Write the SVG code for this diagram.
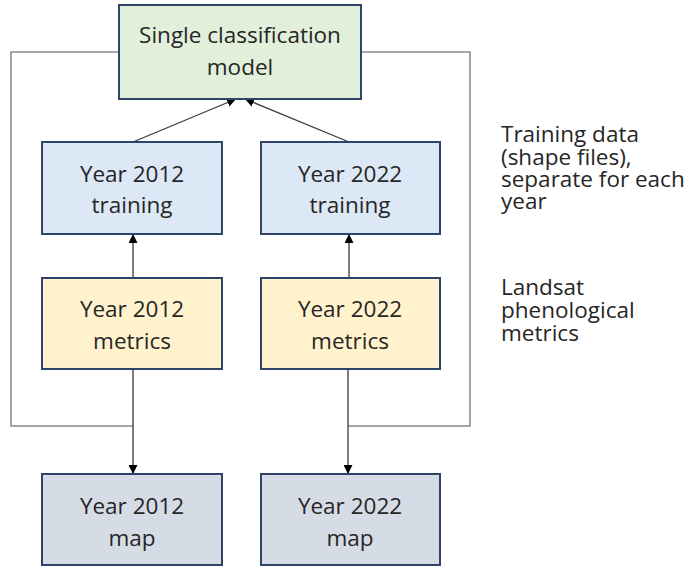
<svg xmlns="http://www.w3.org/2000/svg" width="690" height="567" viewBox="0 0 690 567">
<defs>
<marker id="ah" viewBox="0 0 10 10" refX="10" refY="5" markerWidth="9" markerHeight="9" markerUnits="userSpaceOnUse" orient="auto">
<path d="M0,0 L10,5 L0,10 z" fill="#000"/>
</marker>
<style>
.box{stroke:#2f4468;stroke-width:2}
.t{font-family:"Open Sans","Liberation Sans",sans-serif;font-size:22.5px;fill:#262626;text-anchor:middle}
.s{font-family:"Open Sans","Liberation Sans",sans-serif;font-size:22.5px;fill:#262626}
.c{fill:none;stroke:#3a3a3a;stroke-width:1.3}
.o{fill:none;stroke:#8a8a8a;stroke-width:1.6}
</style>
</defs>
<rect width="690" height="567" fill="#fff"/>
<g id="connectors">
<path class="o" d="M119,52 H11 V426 H133"/>
<path class="o" d="M361,52 H470 V426 H348"/>
<line class="c" x1="133" y1="142" x2="236" y2="99" marker-end="url(#ah)"/>
<line class="c" x1="349" y1="142" x2="245" y2="99" marker-end="url(#ah)"/>
<line class="c" x1="133" y1="278" x2="133" y2="234" marker-end="url(#ah)"/>
<line class="c" x1="349" y1="278" x2="349" y2="234" marker-end="url(#ah)"/>
<line class="c" x1="133" y1="369" x2="133" y2="474" marker-end="url(#ah)"/>
<line class="c" x1="348" y1="369" x2="348" y2="474" marker-end="url(#ah)"/>
</g>
<g id="model">
<rect class="box" x="119" y="5" width="242" height="94" fill="#e2efda"/>
<text class="t" x="240" y="43">Single classification</text>
<text class="t" x="240" y="75">model</text>
</g>
<g id="train2012">
<rect class="box" x="42" y="142" width="180" height="92" fill="#dce8f5"/>
<text class="t" x="132" y="182">Year 2012</text>
<text class="t" x="132" y="213">training</text>
</g>
<g id="train2022">
<rect class="box" x="261" y="142" width="179" height="92" fill="#dce8f5"/>
<text class="t" x="350" y="182">Year 2022</text>
<text class="t" x="350" y="213">training</text>
</g>
<g id="metrics2012">
<rect class="box" x="42" y="278" width="180" height="91" fill="#fff2cc"/>
<text class="t" x="132" y="317">Year 2012</text>
<text class="t" x="132" y="349">metrics</text>
</g>
<g id="metrics2022">
<rect class="box" x="261" y="278" width="179" height="91" fill="#fff2cc"/>
<text class="t" x="350" y="317">Year 2022</text>
<text class="t" x="350" y="349">metrics</text>
</g>
<g id="map2012">
<rect class="box" x="42" y="474" width="180" height="91" fill="#d6dce5"/>
<text class="t" x="132" y="514">Year 2012</text>
<text class="t" x="132" y="546">map</text>
</g>
<g id="map2022">
<rect class="box" x="261" y="474" width="179" height="91" fill="#d6dce5"/>
<text class="t" x="350" y="514">Year 2022</text>
<text class="t" x="350" y="546">map</text>
</g>
<g id="legend">
<text class="s" x="501" y="142">Training data</text>
<text class="s" x="501" y="165">(shape files),</text>
<text class="s" x="501" y="187">separate for each</text>
<text class="s" x="501" y="209">year</text>
<text class="s" x="501" y="295">Landsat</text>
<text class="s" x="501" y="318">phenological</text>
<text class="s" x="501" y="341">metrics</text>
</g>
</svg>
